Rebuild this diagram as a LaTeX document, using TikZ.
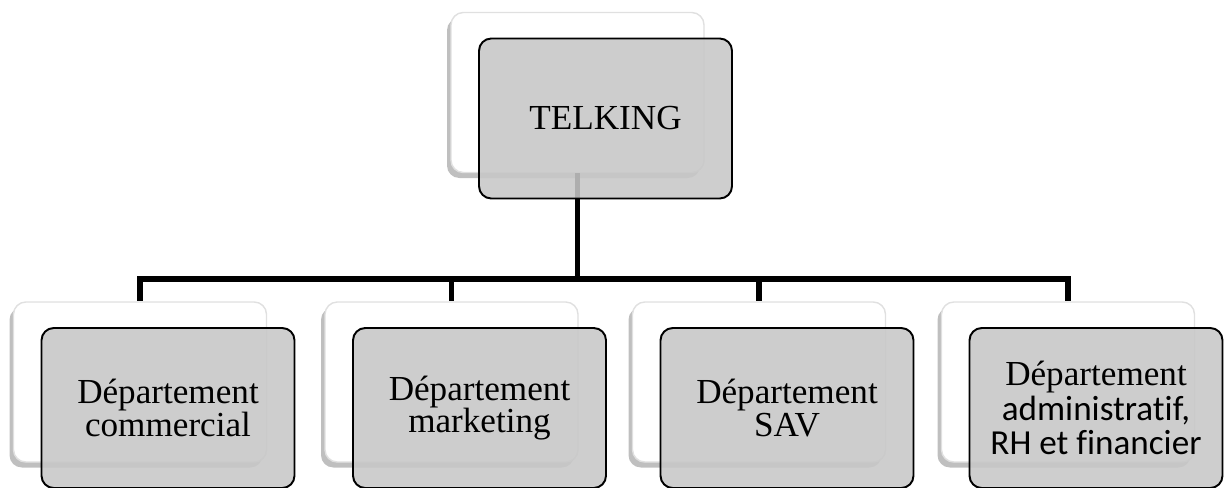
\documentclass[tikz,border=0pt]{standalone}
\usepackage{fontspec}
\setmainfont{Liberation Serif}
\newfontfamily\calibrifont[Ligatures=NoCommon]{Carlito}
\usetikzlibrary{positioning,shadows}

\begin{document}
\begin{tikzpicture}[thick,
    back/.style={rectangle, rounded corners=7pt, minimum width=5.06cm, minimum height=3.2cm,
        fill=white, draw=black!12,
        drop shadow={shadow xshift=-0.8mm, shadow yshift=-1.1mm, opacity=0.5}},
    front/.style={rectangle, rounded corners=7pt, minimum width=5.06cm, minimum height=3.2cm,
        draw=black, line width=1.1pt, fill=black!22, fill opacity=0.88, text opacity=1,
        align=center, inner sep=0pt, font=\fontsize{20}{18.5}\selectfont},
    link/.style={line width=3pt}]
    \useasboundingbox (0,0) rectangle (24.48,-9.76);

    % Back boxes
    \node[back] (topback) at (11.55,-1.85) {};
    \foreach \x [count=\i] in {2.8, 9.03, 15.18, 21.36} {
        \node[back] (back\i) at (\x,-7.64) {};
    }

    % Links
    \coordinate (bar) at (11.55,-5.58);
    \draw[link] (topback.south) -- (bar);
    \foreach \i in {1,...,4} {
        \draw[link] (bar) -| (back\i.north);
    }

    % Front boxes
    \node[front] (top) at ([shift={(0.56,-0.52)}]topback.center) {TELKING};
    \node[front] (dep1) at ([shift={(0.56,-0.52)}]back1.center) {Département\\commercial};
    \node[front] (dep2) at ([shift={(0.56,-0.52)}]back2.center) {Département\\marketing};
    \node[front] (dep3) at ([shift={(0.56,-0.52)}]back3.center) {Département\\SAV};
    \node[front] (dep4) at ([shift={(0.56,-0.52)}]back4.center)
        {Département\\[1pt]\calibrifont administratif,\\[1pt]\calibrifont RH et financier};
\end{tikzpicture}
\end{document}
